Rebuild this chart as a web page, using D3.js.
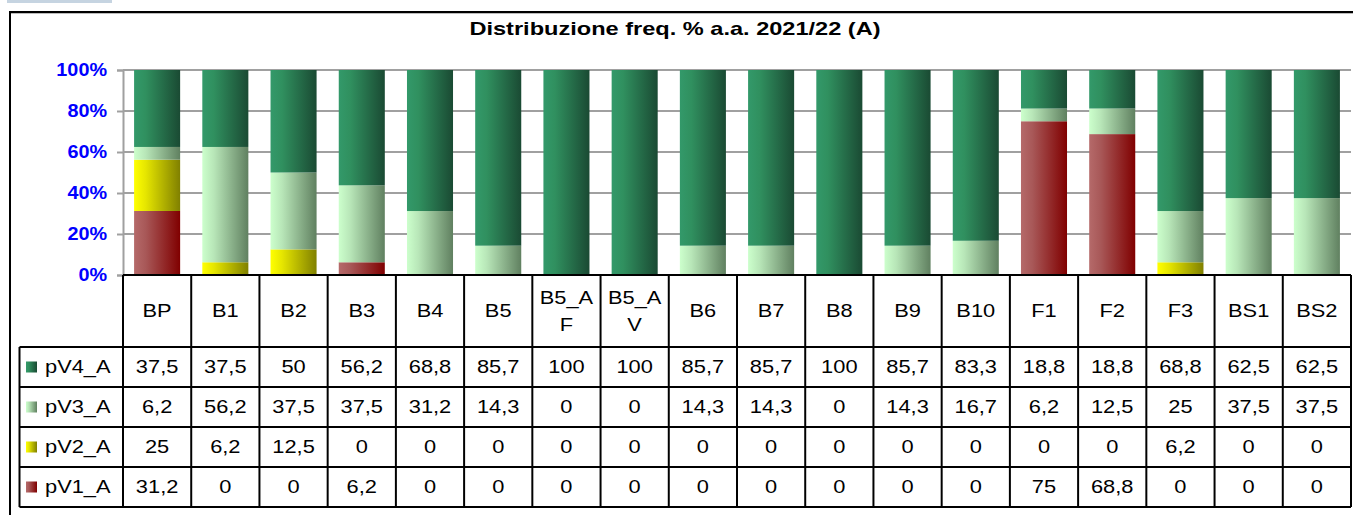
<!DOCTYPE html>
<html>
<head>
<meta charset="utf-8">
<script src="https://cdn.jsdelivr.net/npm/d3@7"></script>
<style>
  body { margin: 0; background: #fff; }
  svg { display: block; font-family: "Liberation Sans", Arial, sans-serif; }
</style>
</head>
<body>
<svg id="chart" width="1353" height="515"></svg>
<script>
var titleText = "Distribuzione freq. % a.a. 2021/22 (A)";
var categories = ["BP", "B1", "B2", "B3", "B4", "B5", "B5_AF", "B5_AV", "B6", "B7", "B8", "B9", "B10", "F1", "F2", "F3", "BS1", "BS2"];
var seriesNames = ["pV4_A", "pV3_A", "pV2_A", "pV1_A"];   // table order, top to bottom
var pV4 = [37.5, 37.5, 50, 56.2, 68.8, 85.7, 100, 100, 85.7, 85.7, 100, 85.7, 83.3, 18.8, 18.8, 68.8, 62.5, 62.5];
var pV3 = [6.2, 56.2, 37.5, 37.5, 31.2, 14.3, 0, 0, 14.3, 14.3, 0, 14.3, 16.7, 6.2, 12.5, 25, 37.5, 37.5];
var pV2 = [25, 6.2, 12.5, 0, 0, 0, 0, 0, 0, 0, 0, 0, 0, 0, 0, 6.2, 0, 0];
var pV1 = [31.2, 0, 0, 6.2, 0, 0, 0, 0, 0, 0, 0, 0, 0, 75, 68.8, 0, 0, 0];
var yTicks = [0, 0.2, 0.4, 0.6, 0.8, 1];

var values = { pV4_A: pV4, pV3_A: pV3, pV2_A: pV2, pV1_A: pV1 };
// light -> dark horizontal gradients, like the Excel fills
var fills = {
  pV4_A: ["#33996a", "#30905f", "#1a4a33"],
  pV3_A: ["#ccffcc", "#b8e6b8", "#608060"],
  pV2_A: ["#ffff00", "#e6e600", "#808000"],
  pV1_A: ["#b56a6a", "#a85858", "#800000"]
};

var svg = d3.select("#chart");
var plotLeft = 123, plotRight = 1351, plotTop = 70, plotBase = 275;
var headerH = 72, rowH = 40, legendLeft = 19.5;

// the source text is drawn a bit wider than Arial, stretch glyphs to match
function stretch(sel, k) {
  sel.each(function () {
    var w = this.getComputedTextLength();
    d3.select(this).attr("textLength", w * k).attr("lengthAdjust", "spacingAndGlyphs");
  });
}

var rows = categories.map(function (c, i) {
  var r = { cat: c };
  seriesNames.forEach(function (s) { r[s] = values[s][i]; });
  return r;
});

var stack = d3.stack()
  .keys(seriesNames.slice().reverse())   // pV1 at the bottom
  .offset(d3.stackOffsetExpand);
var stacked = stack(rows);

var xCol = d3.scaleBand().domain(categories).range([plotLeft, plotRight]);
var x = d3.scaleBand().domain(categories).range([plotLeft, plotRight])
  .paddingInner(0.325).paddingOuter(0.1625);
var y = d3.scaleLinear().domain([0, 1]).range([plotBase, plotTop]);

// gradients
var defs = svg.append("defs");
seriesNames.forEach(function (s) {
  var g = defs.append("linearGradient").attr("id", "g_" + s)
    .attr("x1", "0%").attr("x2", "100%").attr("y1", "0%").attr("y2", "0%");
  g.append("stop").attr("offset", "0%").attr("stop-color", fills[s][0]);
  g.append("stop").attr("offset", "25%").attr("stop-color", fills[s][1]);
  g.append("stop").attr("offset", "100%").attr("stop-color", fills[s][2]);
});

// little tab at top left
svg.append("rect").attr("x", 7).attr("y", 0).attr("width", 105).attr("height", 3).attr("fill", "#c6d4e1");

// outer frame
svg.append("line").attr("x1", 9).attr("x2", 1353).attr("y1", 13.5).attr("y2", 13.5)
  .attr("stroke", "#bbb").attr("stroke-width", 1);
svg.append("rect").attr("x", 10).attr("y", 12).attr("width", 1400).attr("height", 600)
  .attr("fill", "none").attr("stroke", "#000").attr("stroke-width", 2);

svg.append("text").attr("x", 675).attr("y", 35).attr("text-anchor", "middle")
  .attr("font-size", 19).attr("font-weight", "bold")
  .text(titleText)
  .call(stretch, 1.24);

// gridlines
svg.append("g").selectAll("line").data(yTicks.filter(function (d) { return d > 0; }))
  .join("line")
  .attr("x1", plotLeft).attr("x2", plotRight)
  .attr("y1", function (d) { return y(d); }).attr("y2", function (d) { return y(d); })
  .attr("stroke", "#a0a0a0").attr("stroke-width", 2);

// y axis
var yAxis = svg.append("g").attr("transform", "translate(" + plotLeft + ",0)")
  .call(d3.axisLeft(y).tickValues(yTicks).tickFormat(d3.format(".0%")).tickSize(6).tickPadding(10));
yAxis.select(".domain").attr("stroke", "#a0a0a0").attr("stroke-width", 2);
yAxis.selectAll(".tick line").attr("stroke", "#a0a0a0").attr("stroke-width", 2);
yAxis.selectAll(".tick text").attr("fill", "#0000ff").attr("font-size", 18)
  .attr("font-weight", "bold")
  .attr("font-family", "'Liberation Sans', Arial, sans-serif")
  .call(stretch, 1.1);

// bars
svg.append("g").selectAll("g").data(stacked).join("g")
  .attr("fill", function (d) { return "url(#g_" + d.key + ")"; })
  .selectAll("rect").data(function (d) { return d; }).join("rect")
  .attr("x", function (d) { return x(d.data.cat); })
  .attr("width", x.bandwidth())
  .attr("y", function (d) { return y(d[1]); })
  .attr("height", function (d) { return y(d[0]) - y(d[1]); });

// data table
var table = svg.append("g").attr("stroke", "#000").attr("stroke-width", 2);
var tableBottom = plotBase + headerH + rowH * seriesNames.length;
table.append("line").attr("x1", plotLeft).attr("x2", plotRight).attr("y1", plotBase).attr("y2", plotBase);
d3.range(seriesNames.length + 1).forEach(function (i) {
  var yy = plotBase + headerH + i * rowH;
  table.append("line").attr("x1", legendLeft).attr("x2", plotRight).attr("y1", yy).attr("y2", yy);
});
categories.forEach(function (c) {
  table.append("line").attr("x1", xCol(c)).attr("x2", xCol(c)).attr("y1", plotBase).attr("y2", tableBottom);
});
table.append("line").attr("x1", plotRight).attr("x2", plotRight).attr("y1", plotBase).attr("y2", tableBottom);
table.append("line").attr("x1", legendLeft).attr("x2", legendLeft).attr("y1", plotBase + headerH).attr("y2", tableBottom);

var txt = svg.append("g").attr("font-size", 18.5).attr("fill", "#000")
  .attr("text-anchor", "middle");

// header labels, wrapped after 4 characters like the source
categories.forEach(function (c) {
  var lines = c.length > 4 ? [c.slice(0, 4), c.slice(4)] : [c];
  var cx = xCol(c) + xCol.bandwidth() / 2;
  var cy = plotBase + headerH / 2 - (lines.length - 1) * 13.5;
  lines.forEach(function (l, k) {
    txt.append("text").attr("x", cx).attr("y", cy + k * 27).attr("dy", "0.35em").text(l);
  });
});

var fmt = function (v) { return String(v).replace(".", ","); };
seriesNames.forEach(function (s, i) {
  var cy = plotBase + headerH + i * rowH + rowH / 2;
  svg.append("rect").attr("x", 26).attr("y", cy - 5.5).attr("width", 11).attr("height", 11)
    .attr("fill", "url(#g_" + s + ")");
  txt.append("text").attr("x", 45).attr("y", cy).attr("dy", "0.35em")
    .attr("text-anchor", "start").text(s);
  categories.forEach(function (c, j) {
    txt.append("text").attr("x", xCol(c) + xCol.bandwidth() / 2).attr("y", cy).attr("dy", "0.35em")
      .text(fmt(values[s][j]));
  });
});
txt.selectAll("text").call(stretch, 1.18);
</script>
</body>
</html>
